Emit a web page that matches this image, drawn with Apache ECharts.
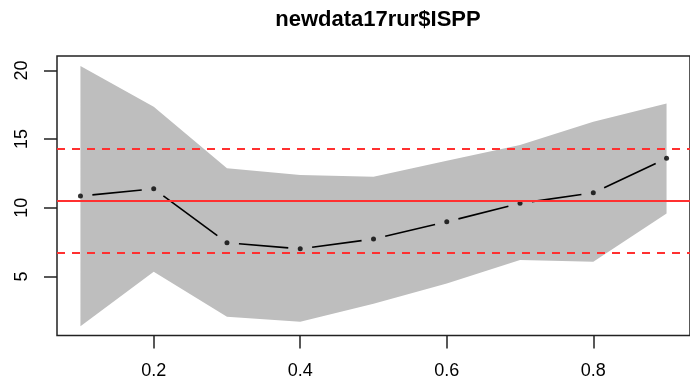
<!DOCTYPE html>
<html>
<head>
<meta charset="utf-8">
<script src="https://cdn.jsdelivr.net/npm/echarts@6/dist/echarts.min.js"></script>
<style>
html,body{margin:0;padding:0;background:#fff;}
#chart{width:690px;height:386px;}
</style>
</head>
<body>
<div id="chart"></div>
<script>
// ---- data ----
var titleText = 'newdata17rur$ISPP';
var xValues = [0.1, 0.2, 0.3, 0.4, 0.5, 0.6, 0.7, 0.8, 0.9];
var isppValues = [10.85, 11.38, 7.45, 7.01, 7.72, 8.98, 10.32, 11.09, 13.6];
var upperBand = [20.32, 17.36, 12.87, 12.38, 12.26, 13.42, 14.57, 16.27, 17.6];
var lowerBand = [1.38, 5.34, 2.06, 1.70, 3.01, 4.49, 6.19, 6.07, 9.59];
var meanLine = 10.51;
var upperLimit = 14.33;
var lowerLimit = 6.72;
var xTicks = [0.2, 0.4, 0.6, 0.8];
var yTicks = [5, 10, 15, 20];

// ---- derived structures ----
var points = xValues.map(function (x, i) { return [x, isppValues[i]]; });
var segments = [];
for (var i = 0; i < xValues.length - 1; i++) {
  segments.push([xValues[i], isppValues[i], xValues[i + 1], isppValues[i + 1]]);
}

var FONT = "'Liberation Sans', Arial, Helvetica, sans-serif";
var chart = echarts.init(document.getElementById('chart'), null, {renderer: 'canvas'});

var option = {
  animation: false,
  backgroundColor: '#fff',
  title: {
    text: titleText,
    left: 378,
    top: 9,
    padding: 0,
    textAlign: 'center',
    textStyle: {fontSize: 22, fontWeight: 'bold', fontFamily: FONT, color: '#000'}
  },
  grid: {
    left: 57, top: 56, width: 643, height: 279.5,
    show: true, borderColor: '#222', borderWidth: 1.5, backgroundColor: 'transparent'
  },
  xAxis: {
    type: 'value',
    min: 0.068, max: 0.932,
    splitLine: {show: false},
    axisLine: {show: false},
    axisTick: {show: true, inside: false, length: 13, customValues: xTicks,
      lineStyle: {color: '#222', width: 1.5}},
    axisLabel: {show: true, customValues: xTicks, margin: 27,
      fontSize: 18, fontFamily: FONT, color: '#000',
      formatter: function (v) { return String(v); }}
  },
  yAxis: {
    type: 'value',
    min: 0.7, max: 21.05,
    splitLine: {show: false},
    axisLine: {show: false},
    axisTick: {show: true, inside: false, length: 13, customValues: yTicks,
      lineStyle: {color: '#222', width: 1.5}},
    axisLabel: {show: true, customValues: yTicks, rotate: 90, margin: 26,
      align: 'center', verticalAlign: 'bottom',
      fontSize: 18, fontFamily: FONT, color: '#000'}
  },
  series: [
    {
      type: 'custom',
      name: 'band',
      z: 1,
      silent: true,
      data: [[xValues[0], lowerBand[0]]],
      renderItem: function (params, api) {
        var pts = [];
        for (var k = 0; k < xValues.length; k++) pts.push(api.coord([xValues[k], upperBand[k]]));
        for (var k2 = xValues.length - 1; k2 >= 0; k2--) pts.push(api.coord([xValues[k2], lowerBand[k2]]));
        return {type: 'polygon', shape: {points: pts}, style: {fill: '#bebebe'}};
      }
    },
    {
      type: 'custom',
      name: 'segments',
      z: 2,
      silent: true,
      encode: {x: [0, 2], y: [1, 3]},
      data: segments,
      renderItem: function (params, api) {
        var p1 = api.coord([api.value(0), api.value(1)]);
        var p2 = api.coord([api.value(2), api.value(3)]);
        var dx = p2[0] - p1[0], dy = p2[1] - p1[1];
        var len = Math.sqrt(dx * dx + dy * dy);
        var gap = 12;
        var ux = dx / len, uy = dy / len;
        return {
          type: 'line',
          shape: {x1: p1[0] + ux * gap, y1: p1[1] + uy * gap, x2: p2[0] - ux * gap, y2: p2[1] - uy * gap},
          style: {stroke: '#000', lineWidth: 1.6}
        };
      }
    },
    {
      type: 'scatter',
      name: 'points',
      z: 3,
      silent: true,
      symbol: 'circle',
      symbolSize: 5,
      itemStyle: {color: '#000'},
      data: points
    },
    {
      type: 'line',
      name: 'limits',
      z: 4,
      silent: true,
      data: [],
      markLine: {
        silent: true,
        symbol: 'none',
        label: {show: false},
        animation: false,
        data: [
          {yAxis: meanLine, lineStyle: {color: '#ff3030', width: 2, type: 'solid'}},
          {yAxis: upperLimit, lineStyle: {color: '#ff3030', width: 2, type: [8, 7]}},
          {yAxis: lowerLimit, lineStyle: {color: '#ff3030', width: 2, type: [8, 7]}}
        ]
      }
    }
  ]
};
chart.setOption(option);
</script>
</body>
</html>
